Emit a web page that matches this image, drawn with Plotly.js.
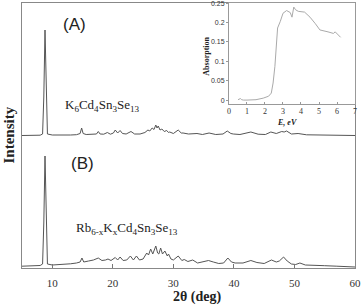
<!DOCTYPE html>
<html><head><meta charset="utf-8">
<script src="https://cdn.plot.ly/plotly-3.0.1.min.js"></script>
<style>html,body{margin:0;padding:0;background:#fff}#chart{width:361px;height:308px}</style>
</head><body><div id="chart"></div>
<script>
// Pattern (A) K6Cd4Sn3Se13 : 2theta (deg) and relative intensity
const tthA = [5, 6, 7, 8, 8.4, 8.6, 8.8, 9.0, 9.2, 10, 11, 12, 13, 14, 14.6, 14.85, 15.1, 15.6, 16.5, 17.3, 17.6, 17.9, 18.5, 19.1, 19.6, 20.1, 20.4, 20.8, 21.2, 21.6, 22.2, 23.0, 23.6, 24.5, 25.3, 25.8, 26.1, 26.5, 26.8, 27.1, 27.3, 27.5, 27.8, 28.1, 28.5, 28.9, 29.2, 29.4, 30.0, 30.8, 31.3, 31.6, 32.5, 33.9, 34.8, 35.9, 37, 38.2, 38.9, 39.5, 39.9, 41, 42.8, 44, 45.2, 46.1, 47, 47.9, 48.3, 48.7, 49.5, 50.6, 52, 54, 56, 58, 60];
const intA = [1.5, 1.6, 1.5, 1.8, 3, 40, 107, 35, 3, 2, 1.8, 2, 2, 2.3, 3.5, 9, 3.5, 2.5, 2.5, 3, 5.5, 3, 2.8, 4.5, 2.8, 4, 7, 4, 6.5, 3.5, 3, 5.5, 3, 3, 4.5, 7, 6, 9, 7.5, 12, 9, 11, 7, 8, 5.5, 6.5, 4.5, 5, 3.5, 7, 4, 4, 3, 3.5, 2.5, 4, 2.5, 3, 6, 3.5, 3, 2.5, 5, 2.8, 2.5, 5, 3.5, 5.5, 5, 6, 3, 3.5, 2.2, 2, 1.8, 1.6, 1.5];
// Pattern (B) Rb6-xKxCd4Sn3Se13
const tthB = [5, 6, 7, 8, 8.4, 8.6, 8.8, 9.0, 9.2, 10, 11, 12, 13, 14, 14.6, 14.9, 15.2, 16, 16.8, 17.6, 18.2, 18.8, 19.2, 19.7, 20.4, 20.8, 21.2, 21.7, 22.3, 22.9, 23.4, 23.9, 24.4, 25.0, 25.6, 25.9, 26.25, 26.6, 27.1, 27.4, 27.6, 27.9, 28.2, 28.6, 29.0, 29.2, 29.6, 30.0, 30.8, 31.4, 31.8, 32.4, 33.2, 34, 35, 35.8, 36.6, 37.5, 38.3, 39.0, 39.6, 40.2, 41.5, 42.8, 43.8, 45, 46.2, 47, 47.5, 48.2, 48.8, 49.5, 50.2, 50.9, 51.8, 53, 55, 57, 59, 60];
const intB = [1.8, 1.9, 2.2, 2.5, 4, 45, 112, 40, 4, 3, 3.3, 3.6, 4.2, 5, 6, 10, 6, 7, 8, 10, 7.5, 8, 9, 7.5, 10.5, 8, 11, 7.5, 8, 12, 8, 12, 8, 9, 15, 13, 19, 14, 22, 15, 14, 20, 14, 17, 12, 14, 9, 8, 12, 7.5, 8.5, 6.5, 8, 5, 6, 7.5, 6, 4.5, 5, 10, 6, 5, 5, 7.5, 5.5, 4.5, 8, 6, 7, 11, 7, 4, 3.5, 5, 3, 2.5, 2.3, 1.8, 1.3, 1];
const offsetA = 131;
// Inset: absorption spectrum
const energy = [0.5, 0.6, 0.64, 0.7, 0.8, 1.0, 1.5, 1.9, 2.2, 2.35, 2.45, 2.55, 2.65, 2.7, 2.85, 3.0, 3.2, 3.4, 3.5, 3.6, 3.7, 3.85, 4.2, 4.5, 4.8, 5.05, 5.5, 5.8, 5.9, 6.2];
const absorption = [0.001, 0.003, 0.004, 0.001, 0.0, 0.0, 0.001, 0.005, 0.01, 0.018, 0.044, 0.087, 0.147, 0.186, 0.203, 0.224, 0.231, 0.226, 0.214, 0.24, 0.233, 0.229, 0.227, 0.214, 0.197, 0.181, 0.176, 0.172, 0.176, 0.162];
const xTicks = [10, 20, 30, 40, 50, 60];
const insetYTicks = [0, 0.05, 0.1, 0.15, 0.2, 0.25];

const traces = [
  {x: tthA, y: intA.map(v => v + offsetA), type: 'scatter', mode: 'lines', line: {color: '#555', width: 1}, xaxis: 'x', yaxis: 'y', hoverinfo: 'skip'},
  {x: tthB, y: intB, type: 'scatter', mode: 'lines', line: {color: '#555', width: 1}, xaxis: 'x', yaxis: 'y', hoverinfo: 'skip'},
  {x: energy, y: absorption, type: 'scatter', mode: 'lines', line: {color: '#aaa', width: 1}, xaxis: 'x2', yaxis: 'y2', hoverinfo: 'skip'}
];

const serif = '"Liberation Serif", "Times New Roman", serif';
const sans = '"Liberation Sans", Arial, sans-serif';

const layout = {
  width: 361, height: 308,
  margin: {l: 22, r: 6, t: 3, b: 40},
  paper_bgcolor: '#fff', plot_bgcolor: 'rgba(0,0,0,0)',
  showlegend: false,
  xaxis: {range: [5, 60], tickvals: xTicks, ticks: 'inside', ticklen: 4, tickcolor: '#777',
    showline: true, mirror: true, linecolor: '#888', linewidth: 1, showgrid: false, zeroline: false,
    tickfont: {family: serif, size: 11, color: '#333'}, ticklabelstandoff: 5},
  yaxis: {range: [0, 265], showticklabels: false, ticks: '', showline: true, mirror: true,
    linecolor: '#888', linewidth: 1, showgrid: false, zeroline: false},
  xaxis2: {domain: [0.6216, 1], anchor: 'y2', range: [0, 7], dtick: 1, ticks: 'inside', ticklen: 2,
    tickcolor: '#999', showline: true, mirror: true, linecolor: '#999', linewidth: 1, showgrid: false,
    zeroline: false, tickfont: {family: serif, size: 8, color: '#333'}, ticklabelstandoff: -1, ticklabeloverflow: 'allow'},
  yaxis2: {domain: [0.619, 1], anchor: 'x2', range: [-0.01, 0.2505], tickvals: insetYTicks, ticktext: insetYTicks.map(String),
    ticks: 'outside', ticklen: 2, ticklabeloverflow: 'allow',
    tickcolor: '#999', showline: true, mirror: true, linecolor: '#999', linewidth: 1, showgrid: false,
    zeroline: false, tickfont: {family: sans, size: 7, color: '#333'}},
  annotations: [
    {text: '(A)', xref: 'paper', yref: 'paper', x: 0.159, y: 0.917, showarrow: false, xanchor: 'center', yanchor: 'middle', font: {family: sans, size: 17, color: '#222'}},
    {text: '(B)', xref: 'paper', yref: 'paper', x: 0.182, y: 0.396, showarrow: false, xanchor: 'center', yanchor: 'middle', font: {family: sans, size: 17, color: '#222'}},
    {text: 'K<sub>6</sub>Cd<sub>4</sub>Sn<sub>3</sub>Se<sub>13</sub>', xref: 'paper', yref: 'paper', x: 0.123, y: 0.615, showarrow: false, xanchor: 'left', yanchor: 'middle', font: {family: serif, size: 13, color: '#222'}},
    {text: 'Rb<sub>6-x</sub>K<sub>x</sub>Cd<sub>4</sub>Sn<sub>3</sub>Se<sub>13</sub>', xref: 'paper', yref: 'paper', x: 0.156, y: 0.148, showarrow: false, xanchor: 'left', yanchor: 'middle', font: {family: serif, size: 13, color: '#222'}},
    {text: '<b>Intensity</b>', xref: 'paper', yref: 'paper', x: -0.042, y: 0.5, textangle: -90, showarrow: false, xanchor: 'center', yanchor: 'middle', font: {family: serif, size: 15, color: '#222'}},
    {text: '<b>2θ (deg)</b>', xref: 'paper', yref: 'paper', x: 0.5255, y: -0.109, showarrow: false, xanchor: 'center', yanchor: 'middle', font: {family: serif, size: 14, color: '#222'}},
    {text: '<b>Absorption</b>', xref: 'paper', yref: 'paper', x: 0.5546, y: 0.8, textangle: -90, showarrow: false, xanchor: 'center', yanchor: 'middle', font: {family: serif, size: 8, color: '#222'}},
    {text: '<b><i>E, eV</i></b>', xref: 'paper', yref: 'paper', x: 0.795, y: 0.548, showarrow: false, xanchor: 'center', yanchor: 'middle', font: {family: serif, size: 8, color: '#222'}}
  ]
};

Plotly.newPlot('chart', traces, layout, {staticPlot: true, displayModeBar: false});
</script>
</body></html>
